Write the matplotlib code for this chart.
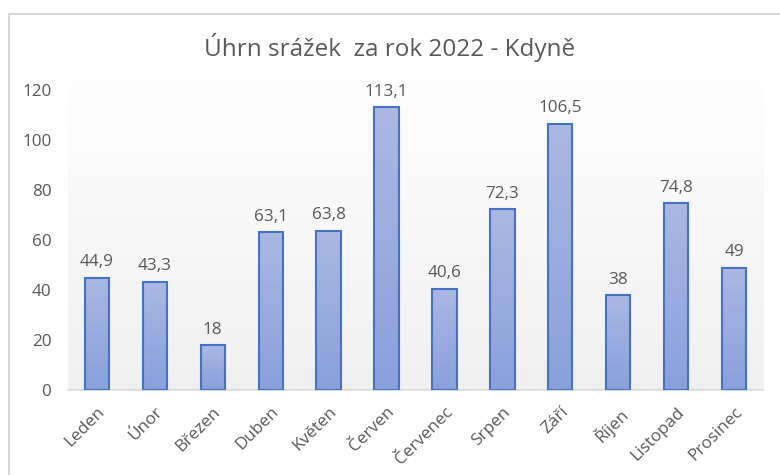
import numpy as np
import matplotlib
matplotlib.use("Agg")
import matplotlib.pyplot as plt
from matplotlib.colors import LinearSegmentedColormap
from matplotlib.lines import Line2D

months = ["Leden", "Únor", "Březen", "Duben", "Květen", "Červen",
          "Červenec", "Srpen", "Září", "Říjen", "Listopad", "Prosinec"]
rain = [44.9, 43.3, 18, 63.1, 63.8, 113.1, 40.6, 72.3, 106.5, 38, 74.8, 49]
yticks = [0, 20, 40, 60, 80, 100, 120]

plt.rcParams["font.family"] = ["Open Sans", "DejaVu Sans"]
TXT = "#595959"
FS = 12.3

fig = plt.figure(figsize=(7.8, 4.75), dpi=100)
fig.patch.set_facecolor("white")
ax = fig.add_axes([68 / 780, 1 - 390 / 475, 695 / 780, 325 / 475])

x = np.arange(len(months))
ax.set_xlim(-0.5, len(months) - 0.5)
ax.set_ylim(0, 130)

# plot area background: white at top, light grey at bottom
bg = LinearSegmentedColormap.from_list("bg", ["#f0f0f0", "#ffffff"])
ax.imshow(np.linspace(0, 1, 256).reshape(-1, 1), cmap=bg, origin="lower",
          extent=[-0.5, len(months) - 0.5, 0, 130], aspect="auto", zorder=0)

bar_cmap = LinearSegmentedColormap.from_list("bar", ["#8aa0db", "#aab8e2"])
bars = ax.bar(x, rain, width=0.42, facecolor="none", edgecolor="#4472c4",
              linewidth=1.5, zorder=3)
for b in bars:
    x0, w, h = b.get_x(), b.get_width(), b.get_height()
    im = ax.imshow(np.linspace(0, 1, 256).reshape(-1, 1), cmap=bar_cmap,
                   origin="lower", extent=[x0, x0 + w, 0, h], aspect="auto",
                   zorder=2)
    im.set_clip_path(b)
    label = f"{h:g}".replace(".", ",")
    ax.text(b.get_x() + w / 2, h + 3.0, label, ha="center", va="bottom",
            fontsize=FS, color=TXT)

ax.set_xticks(x)
ax.set_xticklabels(months, rotation=45, ha="right", rotation_mode="anchor",
                   fontsize=FS, color=TXT)
ax.set_yticks(yticks)
ax.set_yticklabels([str(t) for t in yticks], fontsize=FS, color=TXT)
ax.tick_params(axis="both", length=0)
ax.tick_params(axis="y", pad=12)
ax.tick_params(axis="x", pad=10)

for s in ["top", "right", "left"]:
    ax.spines[s].set_visible(False)
ax.spines["bottom"].set_color("#d9d9d9")
ax.spines["bottom"].set_linewidth(1.2)

fig.text(0.5, 1 - 47 / 475, "Úhrn srážek  za rok 2022 - Kdyně", ha="center",
         va="center", fontsize=17.5, color=TXT)

# chart frame (only top and left visible in the crop)
fig.add_artist(Line2D([9 / 780, 1.0], [1 - 14 / 475] * 2,
                      transform=fig.transFigure, color="#d9d9d9", lw=1.5))
fig.add_artist(Line2D([9 / 780] * 2, [0, 1 - 14 / 475],
                      transform=fig.transFigure, color="#d9d9d9", lw=1.5))

fig.savefig("out.png", dpi=100)
